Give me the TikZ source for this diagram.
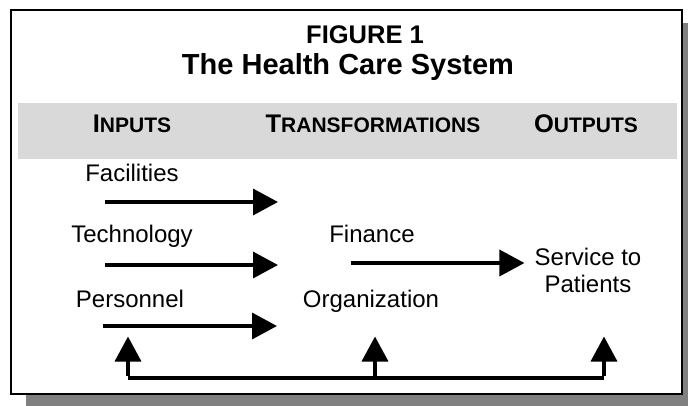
\documentclass[tikz,border=0pt]{standalone}
\usepackage{fontspec}
\setmainfont{Liberation Sans}
\usetikzlibrary{arrows.meta,positioning}
\definecolor{bandgray}{HTML}{D9D9D9}
\definecolor{shadowgray}{HTML}{808080}
\tikzstyle{item} = [font=\fontsize{24}{27}\selectfont, inner sep=0pt, anchor=base]
\tikzstyle{head} = [font=\bfseries, inner sep=0pt, anchor=base]
\tikzstyle{flow} = [line width=3.5pt, -{Triangle[length=25pt,width=26pt]}]
% fake small capitals for the column heads
\newcommand{\smcap}[2]{{\fontsize{25.5}{28}\selectfont #1}{\fontsize{21}{24}\selectfont #2}}

\begin{document}
\begin{tikzpicture}[x=1pt,y=-1pt]
\useasboundingbox (0,0) rectangle (688,406);

% drop shadow, frame and header band
\fill[shadowgray] (26,23) rectangle (688,406);
\draw[line width=1.5pt, fill=white] (11,10) rectangle (682,394);
\fill[bandgray] (18,103) rectangle (677,159);

% title
\node (fig) at (365,44) [head, font=\bfseries\fontsize{25.5}{30}\selectfont] {FIGURE 1};
\node (title) at (348,75) [head, font=\bfseries\fontsize{29}{32}\selectfont] {The Health Care System};

% column heads
\node (inputs) at (132,133) [head] {\smcap{I}{NPUTS}};
\node (trans) at (373,133) [head] {\smcap{T}{RANSFORMATIONS}};
\node (outputs) at (586,133) [head] {\smcap{O}{UTPUTS}};

% inputs
\node (fac) at (132,182) [item] {Facilities};
\node (tech) at (132,243) [item] {Technology};
\node (pers) at (130,307) [item] {Personnel};
\coordinate (fac-s) at (105,202);  \coordinate (fac-e) at (278,202);
\coordinate (tech-s) at (105,265); \coordinate (tech-e) at (278,265);
\coordinate (pers-s) at (103,326); \coordinate (pers-e) at (277,326);
\draw[flow] (fac-s) -- (fac-e);
\draw[flow] (tech-s) -- (tech-e);
\draw[flow] (pers-s) -- (pers-e);

% transformations
\node (fin) at (372,243) [item] {Finance};
\node (org) at (371,307) [item] {Organization};
\node (serv) at (588,292) [item, align=center] {Service to\\Patients};
\coordinate (fin-s) at (351,263);
\coordinate (fin-e) at ([xshift=-10pt]serv.west |- fin-s);
\draw[flow] (fin-s) -- (fin-e);

% feedback
\coordinate (fbL) at (128,378);
\coordinate (fbM) at (375,378);
\coordinate (fbR) at (604,378);
\draw[line width=3.5pt] (fbL) -- (fbR);
\foreach \p in {fbL,fbM,fbR}
  \draw[flow] ([yshift=1.75pt]\p) -- ++(0,-39.75);
\end{tikzpicture}
\end{document}
